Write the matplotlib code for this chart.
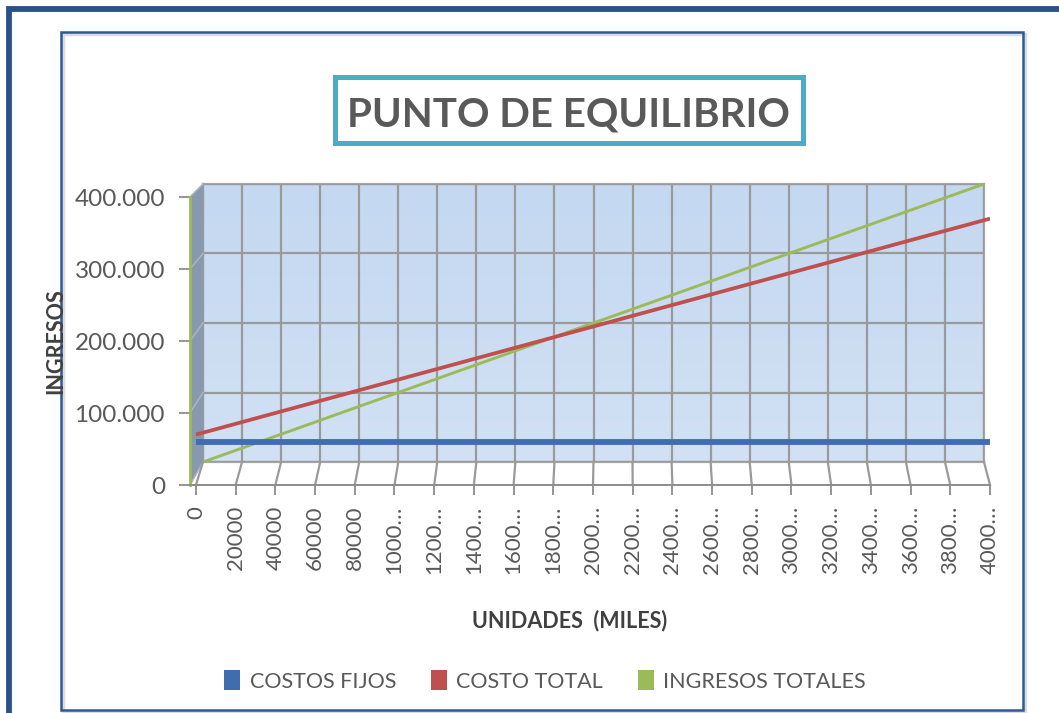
import numpy as np
import matplotlib
matplotlib.use("Agg")
import matplotlib.pyplot as plt
from matplotlib.patches import Rectangle, Polygon, Patch
from matplotlib.lines import Line2D

# ---------------------------------------------------------------
# data
# ---------------------------------------------------------------
unidades = [0, 20000, 40000, 60000, 80000, 100000, 120000, 140000, 160000,
            180000, 200000, 220000, 240000, 260000, 280000, 300000, 320000,
            340000, 360000, 380000, 400000]
x_labels = ["0", "20000", "40000", "60000", "80000", "1000…", "1200…",
            "1400…", "1600…", "1800…", "2000…", "2200…", "2400…", "2600…",
            "2800…", "3000…", "3200…", "3400…", "3600…", "3800…", "4000…"]
costos_fijos = [60000, 60000, 60000, 60000, 60000, 60000, 60000, 60000,
                60000, 60000, 60000, 60000, 60000, 60000, 60000, 60000,
                60000, 60000, 60000, 60000, 60000]
costo_total = [70000, 85000, 100000, 115000, 130000, 145000, 160000, 175000,
               190000, 205000, 220000, 235000, 250000, 265000, 280000,
               295000, 310000, 325000, 340000, 355000, 370000]
ingresos_totales = [0, 20000, 40000, 60000, 80000, 100000, 120000, 140000,
                    160000, 180000, 200000, 220000, 240000, 260000, 280000,
                    300000, 320000, 340000, 360000, 380000, 400000]
y_ticks = [0, 100000, 200000, 300000, 400000]
y_labels = ["0", "100.000", "200.000", "300.000", "400.000"]
series_names = ["COSTOS FIJOS", "COSTO TOTAL", "INGRESOS TOTALES"]
series_colors = ["#3f6db0", "#c0504d", "#9bbb59"]

# ---------------------------------------------------------------
# figure + helpers (pixel layout of a 1059x713 picture)
# ---------------------------------------------------------------
W, H = 1059, 713
plt.rcParams["font.family"] = ["Lato", "DejaVu Sans"]
TXT = "#595959"

fig = plt.figure(figsize=(W / 100, H / 100), dpi=100)
fig.patch.set_facecolor("white")


def frect(x0, y0, x1, y1):
    return [x0 / W, 1 - y1 / H, (x1 - x0) / W, (y1 - y0) / H]


def fx(x):
    return x / W


def fy(y):
    return 1 - y / H


# outer dark frame and inner chart panel
fig.add_artist(Rectangle((fx(8.5), fy(730)), fx(1080), 1 - fy(730) - (1 - fy(9)),
                         transform=fig.transFigure, fill=False,
                         edgecolor="#2a5189", lw=4.2))
fig.add_artist(Rectangle((fx(62.5), fy(712)), fx(1025) - fx(62.5), fy(33.5) - fy(712),
                         transform=fig.transFigure, fill=False,
                         edgecolor="#dcdcdc", lw=2.5))
fig.add_artist(Rectangle((fx(61), fy(710)), fx(1023) - fx(61), fy(32) - fy(710),
                         transform=fig.transFigure, fill=False,
                         edgecolor="#2d5a96", lw=1.8))

# ---------------------------------------------------------------
# back wall (depth row of INGRESOS TOTALES)
# ---------------------------------------------------------------
ax_back = fig.add_axes(frect(203, 184, 984, 462))
ax_back.set_zorder(1)
ax_back.set_xlim(0, 400000)
ax_back.set_ylim(0, 400000)
grad = np.linspace(0, 1, 100).reshape(-1, 1)
wall_cmap = matplotlib.colors.LinearSegmentedColormap.from_list(
    "wall", ["#c4d8f1", "#d2e1f4"])
ax_back.imshow(grad, extent=[0, 1, 0, 1], transform=ax_back.transAxes,
               cmap=wall_cmap, aspect="auto", zorder=0)
ax_back.set_xticks(unidades)
ax_back.set_yticks(y_ticks)
ax_back.grid(True, color="#9a9a9a", lw=1.6)
ax_back.set_axisbelow(False)
ax_back.tick_params(length=0, labelleft=False, labelbottom=False)
for s in ax_back.spines.values():
    s.set_color("#a6a6a6")
    s.set_linewidth(1.6)
ax_back.plot(unidades, ingresos_totales, color=series_colors[2], lw=2.1,
             solid_capstyle="butt", zorder=3)

# ---------------------------------------------------------------
# front plane: axes, ticks, front depth rows
# ---------------------------------------------------------------
ax = fig.add_axes(frect(190, 197, 990, 485))
ax.set_zorder(3)
ax.patch.set_alpha(0)
ax.set_xlim(-3000, 400000)
ax.set_ylim(0, 400000)
ax.set_xticks(unidades)
ax.set_xticklabels(x_labels, rotation=90, fontsize=16, color=TXT)
ax.set_yticks(y_ticks)
ax.set_yticklabels(y_labels, fontsize=17.5, color=TXT)
ax.tick_params(axis="x", length=7, width=1.3, color="#8c8c8c", pad=8)
ax.tick_params(axis="y", length=8, width=1.3, color="#8c8c8c", pad=10)
ax.spines["top"].set_visible(False)
ax.spines["right"].set_visible(False)
ax.spines["bottom"].set_color("#8c8c8c")
ax.spines["bottom"].set_linewidth(1.4)
ax.spines["left"].set_color(series_colors[2])
ax.spines["left"].set_linewidth(2.0)

ax.plot(unidades, costo_total, color=series_colors[1], lw=2.7,
        solid_capstyle="butt", zorder=3)
ax.plot(unidades, costos_fijos, color=series_colors[0], lw=4.2,
        solid_capstyle="butt", zorder=4)

# ---------------------------------------------------------------
# floor and left side wall, joining back wall to front plane
# ---------------------------------------------------------------
inv = fig.transFigure.inverted()


def to_fig(axis, pt):
    return inv.transform(axis.transData.transform(pt))


x_left = ax.get_xlim()[0]
wall = Polygon([to_fig(ax, (x_left, 0)), to_fig(ax_back, (0, 0)),
                to_fig(ax_back, (0, 400000)), to_fig(ax, (x_left, 400000))],
               closed=True, transform=fig.transFigure, facecolor="#8898ae",
               edgecolor="none", zorder=2)
fig.add_artist(wall)
for v in y_ticks:
    a = to_fig(ax, (x_left, v))
    b = to_fig(ax_back, (0, v))
    fig.add_artist(Line2D([a[0], b[0]], [a[1], b[1]], transform=fig.transFigure,
                          color="#a9b3c2", lw=1.2, zorder=2))
for q in unidades:
    a = to_fig(ax, (q, 0))
    b = to_fig(ax_back, (q, 0))
    fig.add_artist(Line2D([a[0], b[0]], [a[1], b[1]], transform=fig.transFigure,
                          color="#9a9a9a", lw=1.6, zorder=2))

# ---------------------------------------------------------------
# titles and legend
# ---------------------------------------------------------------
fig.add_artist(Rectangle((fx(334.5), fy(143)), fx(803) - fx(334.5), fy(76.5) - fy(143),
                         transform=fig.transFigure, fill=False,
                         edgecolor="#4bacc6", lw=3.6))
fig.text(fx(568.5), fy(127), "PUNTO DE EQUILIBRIO", ha="center", va="baseline",
         fontsize=29, fontweight="bold", color=TXT)
fig.text(fx(56), fy(341), "INGRESOS", rotation=90, ha="center", va="center",
         fontsize=15.5, fontweight="bold", color="#404040")
fig.text(fx(570), fy(627), "UNIDADES  (MILES)", ha="center", va="baseline",
         fontsize=15.5, fontweight="bold", color="#404040")

handles = [Patch(facecolor=c, edgecolor="none") for c in series_colors]
fig.legend(handles, series_names, loc="center", bbox_to_anchor=(fx(545), fy(681)),
           ncol=3, frameon=False, fontsize=15.5, labelcolor=TXT,
           handlelength=0.75, handleheight=1.0, handletextpad=0.45,
           columnspacing=1.6)

plt.savefig("out.png", dpi=100)
